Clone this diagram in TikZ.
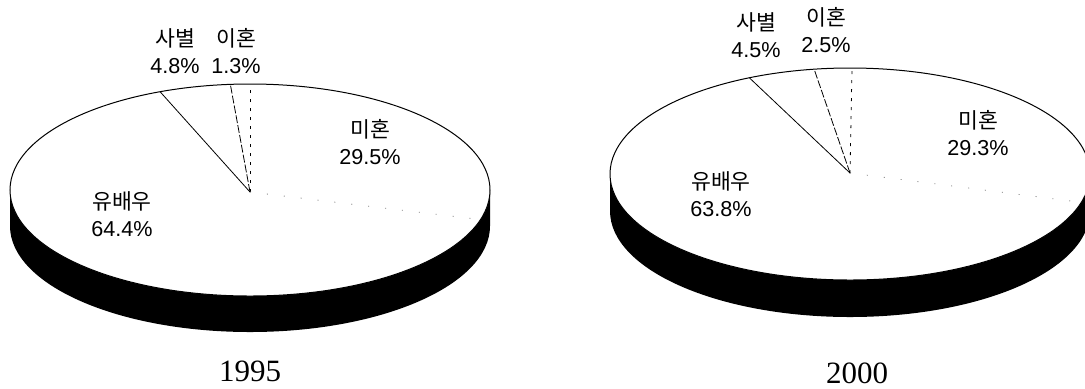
\documentclass[tikz,border=0pt]{standalone}
\usepackage{fontspec}
\setmainfont{Liberation Sans}
\newfontfamily\krfont{Noto Sans CJK KR}
\newfontfamily\yearfont{Liberation Serif}

\begin{document}
\begin{tikzpicture}[x=0.5pt,y=0.5pt,
  rim/.style={line width=0.5pt},
  cut/.style={line width=0.4pt},
  cutdash/.style={line width=0.4pt,dash pattern=on 4pt off 1pt},
  cutdot/.style={line width=0.4pt,dash pattern=on 1.5pt off 3pt},
  cutfaint/.style={gray,line width=0.4pt,dash pattern=on 0.5pt off 8pt},
  lbl/.style={align=center,inner sep=0pt,font=\fontsize{10.8}{13.5}\selectfont},
  yr/.style={inner sep=0pt,font=\yearfont\fontsize{15.5}{18}\selectfont}]
   \useasboundingbox (0,0) rectangle (1085,388);
   \clip (0,0) rectangle (1085,388);

   % 1995
   \begin{scope}[shift={(250,198)}]
     \fill (-240,0) -- (-240,-36) arc[start angle=180,end angle=360,x radius=240,y radius=106]
       -- (240,0) arc[start angle=360,end angle=180,x radius=240,y radius=106] -- cycle;
     \draw[rim,fill=white] (0,0) ellipse[x radius=240,y radius=106];
     \coordinate (c95) at (0,-2);
     \coordinate (m95) at ({240*cos(-16.2)},{106*sin(-16.2)});
     \coordinate (y95) at ({240*cos(112.0)},{106*sin(112.0)});
     \coordinate (s95) at ({240*cos(94.7)},{106*sin(94.7)});
     \coordinate (d95) at (0,106);
     \draw[cut] (c95) -- (y95);
     \draw[cutdash] (c95) -- (s95);
     \draw[cutdot] (c95) -- (d95);
     \draw[cutfaint] (c95) -- (m95);
   \end{scope}

   % 2000
   \begin{scope}[shift={(850,214)}]
     \fill (-240,0) -- (-240,-37) arc[start angle=180,end angle=360,x radius=240,y radius=106]
       -- (240,0) arc[start angle=360,end angle=180,x radius=240,y radius=106] -- cycle;
     \draw[rim,fill=white] (0,0) ellipse[x radius=240,y radius=106];
     \coordinate (c00) at (0,1);
     \coordinate (m00) at ({240*cos(-15.5)},{106*sin(-15.5)});
     \coordinate (y00) at ({240*cos(114.8)},{106*sin(114.8)});
     \coordinate (s00) at ({240*cos(98.6)},{106*sin(98.6)});
     \coordinate (d00) at (2,106);
     \draw[cut] (c00) -- (y00);
     \draw[cutdash] (c00) -- (s00);
     \draw[cutdot] (c00) -- (d00);
     \draw[cutfaint] (c00) -- (m00);
   \end{scope}

   \node[lbl] (sab95) at (175,336.5) {{\krfont 사별}\\4.8\%};
   \node[lbl] (ihon95) at (236,336.5) {{\krfont 이혼}\\1.3\%};
   \node[lbl] (mihon95) at (370,245.5) {{\krfont 미혼}\\29.5\%};
   \node[lbl] (yubae95) at (122,174) {{\krfont 유배우}\\64.4\%};
   \node[yr] (year95) at (250,17) {1995};

   \node[lbl] (sab00) at (756,353) {{\krfont 사별}\\4.5\%};
   \node[lbl] (ihon00) at (826,357.5) {{\krfont 이혼}\\2.5\%};
   \node[lbl] (mihon00) at (978,254.5) {{\krfont 미혼}\\29.3\%};
   \node[lbl] (yubae00) at (721,193.5) {{\krfont 유배우}\\63.8\%};
   \node[yr] (year00) at (857,15) {2000};
 \end{tikzpicture}
\end{document}
